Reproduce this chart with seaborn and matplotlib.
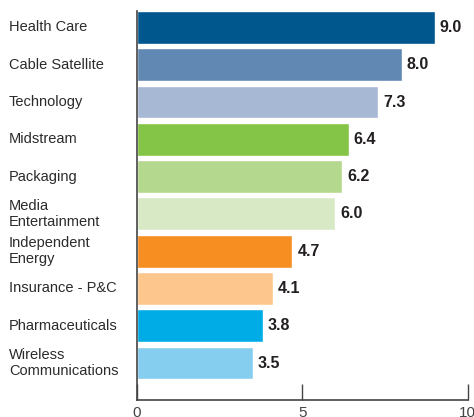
import matplotlib
matplotlib.use("Agg")
import matplotlib.pyplot as plt
import seaborn as sns
import pandas as pd

sectors = ["Health Care", "Cable Satellite", "Technology", "Midstream", "Packaging",
           "Media\nEntertainment", "Independent\nEnergy", "Insurance - P&C",
           "Pharmaceuticals", "Wireless\nCommunications"]
values = [9.0, 8.0, 7.3, 6.4, 6.2, 6.0, 4.7, 4.1, 3.8, 3.5]
colors = ["#00578d", "#6187b3", "#a7b8d5", "#84c446", "#b5d88f",
          "#d8e9c6", "#f68e21", "#fdc68c", "#00ace5", "#86cef0"]
xticks = [0, 5, 10]

df = pd.DataFrame({"Sector": sectors, "Value": values})

sns.set_theme(style="white")
plt.rcParams['font.family'] = ['Liberation Sans', 'DejaVu Sans']

fig = plt.figure(figsize=(4.74, 4.17), dpi=100)
ax = fig.add_axes([0.289, 0.0408, 0.6977, 0.9328])

sns.barplot(data=df, x="Value", y="Sector", hue="Sector", palette=colors,
            legend=False, width=0.88, saturation=1, ax=ax)

ax.set_xlim(0, 10)
ax.set_ylim(9.99, -0.44)
ax.set_xlabel("")
ax.set_ylabel("")
ax.set_xticks(xticks)
ax.set_xticklabels([str(t) for t in xticks])
ax.tick_params(axis="x", direction="in", length=11.5, width=1, color="#444444",
               labelsize=11, labelcolor="#444444", pad=4, bottom=True)
ax.tick_params(axis="y", length=0)
ax.set_yticklabels([])

for sp in ["top", "right"]:
    ax.spines[sp].set_visible(False)
for sp in ["left", "bottom"]:
    ax.spines[sp].set_color("#444444")
    ax.spines[sp].set_linewidth(1.2)

for i, (name, v) in enumerate(zip(sectors, values)):
    # category label at the left edge of the figure
    ax.annotate(name, xy=(0, i), xycoords=("axes fraction", "data"),
                xytext=(-128, 0), textcoords="offset pixels",
                ha="left", va="center", fontsize=10.5, color="#2b2b2b",
                linespacing=1.2)
    ax.annotate(f"{v:.1f}", xy=(v, i), xytext=(5, 0), textcoords="offset pixels",
                ha="left", va="center", fontsize=11.5, fontweight="bold",
                color="#231f20")

fig.savefig("out.png", dpi=100)
